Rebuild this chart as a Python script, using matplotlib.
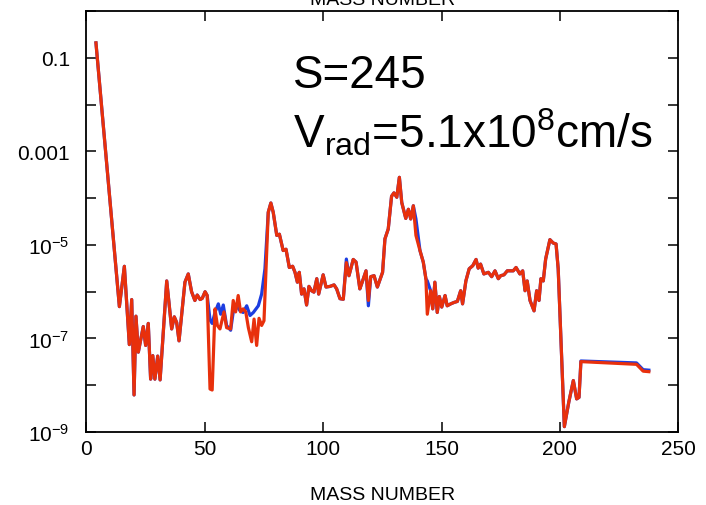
import numpy as np
from matplotlib import pyplot as plt
from matplotlib.ticker import FixedLocator, NullLocator

plt.rcParams['font.family'] = ['Liberation Sans', 'DejaVu Sans']
plt.rcParams['mathtext.default'] = 'regular'

# red series: mass number and abundance
red_mass = [
    4.0, 13.9, 16.0, 18.1, 19.1, 20.1, 20.9, 21.9, 24.0, 25.0,
    26.1, 27.1, 28.0, 28.9, 30.1, 31.1, 33.9, 36.0, 37.1, 38.1,
    39.1, 41.6, 43.0, 44.4, 45.8, 46.8, 48.0, 48.9, 50.1, 51.0,
    52.2, 53.1, 54.3, 55.3, 56.4, 58.1, 59.2, 60.9, 62.0, 63.0,
    64.1, 65.1, 66.2, 67.3, 68.4, 69.8, 70.8, 71.9, 72.9, 74.0,
    75.0, 76.8, 77.9, 78.9, 80.4, 81.5, 83.1, 84.3, 85.7, 87.1,
    88.1, 89.1, 89.9, 90.9, 91.9, 93.0, 94.0, 95.1, 96.1, 97.3,
    98.1, 100.0, 101.2, 102.9, 104.6, 105.7, 107.1, 108.5, 109.8, 110.9,
    112.7, 113.9, 115.5, 116.3, 118.1, 119.1, 120.1, 121.5, 122.9, 125.1,
    126.1, 127.5, 128.9, 129.9, 131.1, 132.2, 133.2, 134.9, 136.0, 137.0,
    138.1, 139.2, 140.9, 142.3, 143.4, 144.0, 145.4, 146.3, 147.2, 148.2,
    149.1, 150.1, 151.5, 152.4, 153.9, 155.3, 156.7, 158.1, 158.9, 160.3,
    161.7, 163.2, 164.6, 165.5, 166.5, 167.9, 169.8, 171.2, 172.6, 174.0,
    175.0, 176.4, 177.8, 180.3, 181.5, 183.1, 184.3, 185.3, 186.2, 187.4,
    189.1, 190.2, 191.2, 192.0, 193.0, 194.0, 195.8, 197.2, 198.4, 199.3,
    201.9, 203.8, 205.7, 207.1, 208.1, 208.9, 232.4, 235.2, 237.6,
]
red_abund = [
    0.21, 4.8e-7, 3.5e-6, 7.4e-8, 6.8e-7, 6.2e-9, 3.0e-7, 5.1e-8, 1.8e-7, 7.1e-8,
    2.1e-7, 1.35e-8, 4.3e-8, 1.35e-8, 4.2e-8, 1.3e-8, 1.7e-6, 1.6e-7, 2.9e-7, 2.2e-7,
    8.9e-8, 1.6e-6, 2.4e-6, 1.0e-6, 6.5e-7, 8.5e-7, 6.8e-7, 7.2e-7, 1.0e-6, 8.3e-7,
    8.3e-9, 7.9e-9, 4.3e-7, 1.9e-7, 1.6e-7, 3.7e-7, 1.7e-7, 1.6e-7, 6.5e-7, 3.7e-7,
    8.3e-7, 3.7e-7, 4.3e-7, 3.7e-7, 1.7e-7, 8.5e-8, 2.6e-7, 7.1e-8, 2.7e-7, 1.9e-7,
    2.4e-7, 5.0e-5, 7.9e-5, 5.0e-5, 1.6e-5, 1.7e-5, 7.6e-6, 8.1e-6, 3.3e-6, 3.5e-6,
    2.6e-6, 1.6e-6, 2.6e-6, 8.9e-7, 1.15e-6, 5.2e-7, 1.3e-6, 1.05e-6, 9.8e-7, 1.9e-6,
    8.9e-7, 2.3e-6, 1.26e-6, 1.3e-6, 1.4e-6, 1.15e-6, 7.1e-7, 6.9e-7, 4.2e-6, 2.2e-6,
    4.9e-6, 4.3e-6, 1.15e-6, 1.5e-6, 2.8e-6, 6.5e-7, 2.1e-6, 2.2e-6, 1.26e-6, 2.6e-6,
    1.35e-5, 2.2e-5, 1.1e-4, 1.3e-4, 1.05e-4, 2.8e-4, 8.1e-5, 3.7e-5, 5.8e-5, 3.6e-5,
    6.9e-5, 1.6e-5, 7.6e-6, 4.3e-6, 1.9e-6, 3.3e-7, 1.05e-6, 4.3e-7, 1.6e-6, 3.6e-7,
    7.9e-7, 4.7e-7, 8.3e-7, 5.0e-7, 5.5e-7, 5.9e-7, 6.2e-7, 1.05e-6, 5.5e-7, 1.7e-6,
    3.1e-6, 3.6e-6, 4.9e-6, 3.2e-6, 3.9e-6, 2.4e-6, 2.6e-6, 2.1e-6, 2.8e-6, 1.9e-6,
    2.2e-6, 2.3e-6, 2.8e-6, 2.8e-6, 3.3e-6, 2.4e-6, 2.8e-6, 1.05e-6, 1.7e-6, 6.5e-7,
    3.9e-7, 1.05e-6, 6.5e-7, 1.9e-6, 1.7e-6, 5.0e-6, 1.3e-5, 1.1e-5, 1.05e-5, 3.1e-6,
    1.3e-9, 4.4e-9, 1.26e-8, 5.1e-9, 5.5e-9, 3.2e-8, 2.8e-8, 2.0e-8, 1.95e-8,
]

# blue series follows the red one except in these stretches
blue_patch_mass = [
    [51.0, 52.2, 53.1, 54.3, 55.7, 56.7, 57.8, 59.2, 60.9, 62.3,
     63.4, 64.9, 66.2, 67.7, 69.1, 70.5, 72.6, 74.0, 75.4, 76.8],
    [108.5, 109.8, 110.9],
    [118.1, 119.1, 120.1],
    [138.1, 139.2, 140.9],
    [143.4, 144.0, 145.4],
    [208.9, 232.4, 235.2, 237.6],
]
blue_patch_abund = [
    [8.3e-7, 2.5e-7, 2.1e-7, 3.6e-7, 5.5e-7, 3.3e-7, 5.2e-7, 1.9e-7, 1.5e-7, 4.7e-7,
     5.0e-7, 3.9e-7, 3.6e-7, 5.0e-7, 3.1e-7, 3.6e-7, 5.0e-7, 8.9e-7, 3.1e-6, 5.0e-5],
    [6.9e-7, 5.0e-6, 2.2e-6],
    [2.8e-6, 5.0e-7, 2.1e-6],
    [6.9e-5, 3.6e-5, 7.6e-6],
    [1.9e-6, 1.7e-6, 1.05e-6],
    [3.3e-8, 3.0e-8, 2.15e-8, 2.1e-8],
]

x_ticks = [0, 50, 100, 150, 200, 250]
y_ticks = [1e-9, 1e-8, 1e-7, 1e-6, 1e-5, 1e-4, 1e-3, 1e-2, 1e-1, 1]
y_tick_labels = ['$10^{-9}$', '', '$10^{-7}$', '', '$10^{-5}$', '',
                 '0.001', '', '0.1', '']


def apply_patches(mass, abund, patch_mass, patch_abund):
    points = list(zip(mass, abund))
    for pm, pa in zip(patch_mass, patch_abund):
        points = [p for p in points if p[0] < pm[0] or p[0] > pm[-1]]
        points += list(zip(pm, pa))
    points.sort()
    return [p[0] for p in points], [p[1] for p in points]


blue_mass, blue_abund = apply_patches(red_mass, red_abund,
                                      blue_patch_mass, blue_patch_abund)

fig = plt.figure(figsize=(7.06, 5.06), dpi=100)
ax = fig.add_axes([0.1225, 0.1443, 0.8381, 0.8316])

ax.plot(blue_mass, blue_abund, color='#1c3de0', linewidth=2.3,
        solid_joinstyle='round')
ax.plot(red_mass, red_abund, color='#e8300c', linewidth=2.3,
        solid_joinstyle='round')

ax.set_yscale('log')
ax.set_xlim(0, 250)
ax.set_ylim(1e-9, 1)
ax.xaxis.set_major_locator(FixedLocator(x_ticks))
ax.yaxis.set_major_locator(FixedLocator(y_ticks))
ax.yaxis.set_minor_locator(NullLocator())
ax.set_yticklabels(y_tick_labels)
ax.set_xticklabels([str(t) for t in x_ticks])

ax.tick_params(which='both', direction='in', top=True, right=True,
               length=7, width=1.1, labelsize=15)
ax.tick_params(axis='y', pad=12)
ax.tick_params(axis='x', pad=5)
for spine in ax.spines.values():
    spine.set_linewidth(1.3)

ax.set_xlabel('MASS NUMBER', fontsize=14, labelpad=20)
fig.text(0.5415, 1 - 5 / 506, 'MASS NUMBER', ha='center', va='baseline',
         fontsize=14)

fig.text(293 / 706, 1 - 88 / 506, 'S=245', fontsize=33, va='baseline')
fig.text(293 / 706, 1 - 149 / 506, '$V_{rad}$=5.1x10$^{8}$cm/s',
         fontsize=33, va='baseline')

fig.savefig('out.png', dpi=100)
plt.close(fig)
